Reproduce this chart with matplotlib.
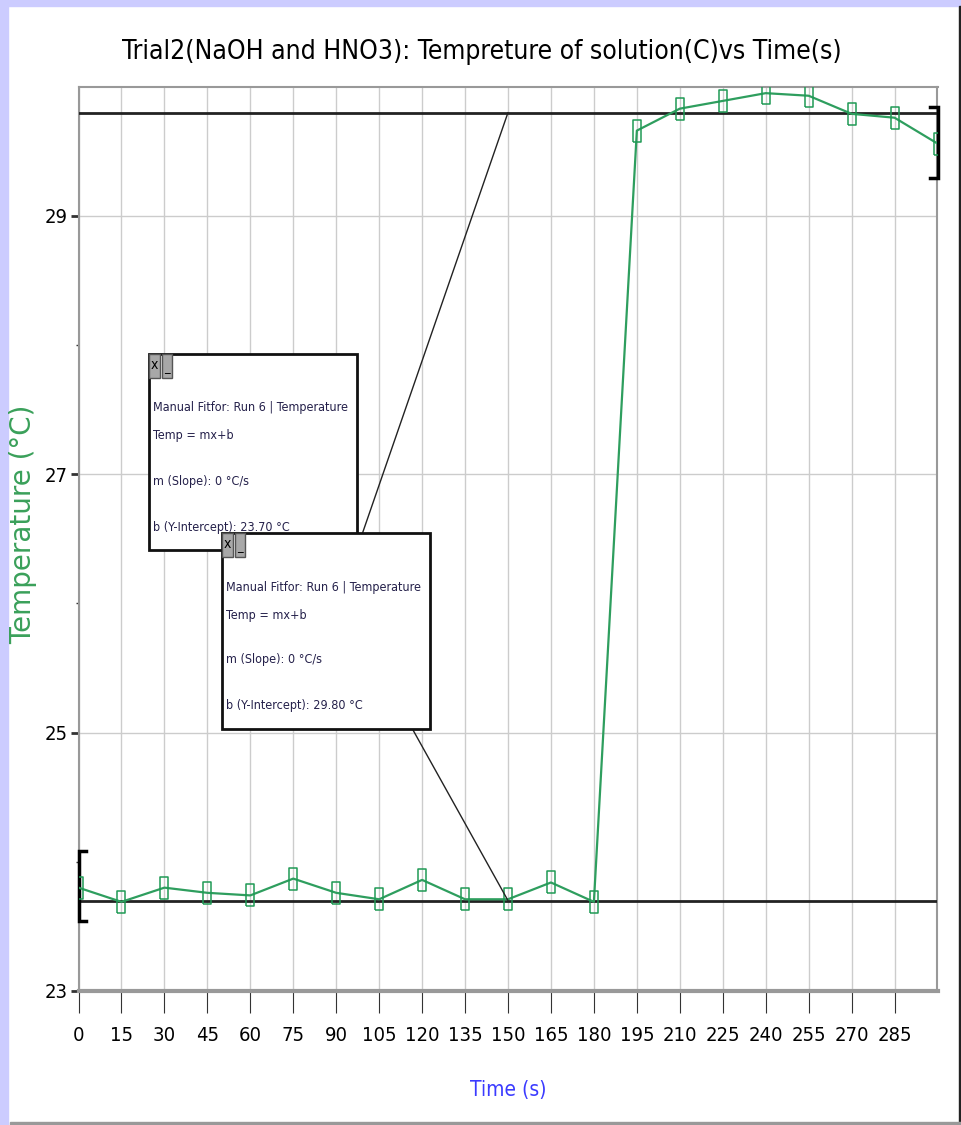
import numpy as np
import matplotlib.pyplot as plt
from matplotlib.patches import Rectangle, ConnectionPatch

# data
times = [0, 15, 30, 45, 60, 75, 90, 105, 120, 135, 150, 165, 180, 195, 210, 225, 240, 255, 270, 285, 300]
temps = [23.80, 23.69, 23.80, 23.76, 23.74, 23.87, 23.76, 23.71, 23.86, 23.71, 23.71, 23.84, 23.69,
         29.66, 29.83, 29.89, 29.95, 29.93, 29.79, 29.76, 29.56]
xticks = list(range(0, 300, 15))
yticks = [23, 25, 27, 29]
fit_b = [23.70, 29.80]
fit_m = [0, 0]
bracket_low = [23.54, 24.08]
bracket_high = [29.29, 29.84]
leader_t = 150

narrow = dict(family='DejaVu Sans', stretch='condensed')
W, H = 962, 1125

def fx(x):
    return x / W

def fy(y):
    return 1 - y / H

fig = plt.figure(figsize=(9.62, 11.25), dpi=100)
fig.patch.set_facecolor('white')

# window frame
fig.add_artist(Rectangle((0, 0), fx(8), 1, transform=fig.transFigure, color='#ccccff', zorder=0))
fig.add_artist(Rectangle((0, fy(6)), 1, fy(0) - fy(6), transform=fig.transFigure, color='#ccccff', zorder=0))
fig.add_artist(Rectangle((fx(959), 0), fx(3), fy(6), transform=fig.transFigure, color='#222222', zorder=0))
fig.add_artist(Rectangle((fx(10), 0), 1, fy(1122), transform=fig.transFigure, color='#999999', zorder=0))

ax = fig.add_axes([fx(78.5), fy(991), fx(937.5) - fx(78.5), fy(86.7) - fy(991)])
ax.set_xlim(0, 300)
ax.set_ylim(23, 30)

ax.set_xticks(xticks)
ax.set_yticks(yticks)
ax.set_yticks([24, 26, 28], minor=True)
ax.grid(True, color='#cccccc', lw=1)
ax.axvline(300, color='#cccccc', lw=1)

for s in ax.spines.values():
    s.set_color('#999999')
    s.set_linewidth(1.5)
ax.spines['bottom'].set_linewidth(3)

ax.tick_params(axis='x', direction='out', length=16, width=0.8, color='#333333', pad=9)
ax.tick_params(axis='y', which='major', direction='out', length=6, width=2, color='#333333', pad=2)
ax.tick_params(axis='y', which='minor', direction='out', length=2, width=1, color='#333333')
for lab in ax.get_xticklabels() + ax.get_yticklabels():
    lab.set_family(narrow['family'])
    lab.set_stretch(narrow['stretch'])
    lab.set_fontsize(14.5)

# fit lines
for b in fit_b:
    ax.axhline(b, color='#222222', lw=2, zorder=3)

ax.plot([2.5, 0, 0, 2.5], [bracket_low[1], bracket_low[1], bracket_low[0], bracket_low[0]],
        color='black', lw=2.5, clip_on=False, zorder=4, solid_joinstyle='miter')
ax.plot([297.5, 300, 300, 297.5], [bracket_high[1], bracket_high[1], bracket_high[0], bracket_high[0]],
        color='black', lw=2.5, clip_on=False, zorder=4, solid_joinstyle='miter')

# tall hollow squares like the logger software draws
box_marker = [(-0.39, -1), (0.39, -1), (0.39, 1), (-0.39, 1), (-0.39, -1)]
ax.plot(times, temps, color='#2e9e5e', lw=1.6, marker=box_marker, markersize=16.5,
        markerfacecolor='none', markeredgecolor='#1f9a55', markeredgewidth=1.1, zorder=5)

ax.set_xlabel('Time (s)', color='#3b3bff', fontsize=15, va='center', **narrow)
ax.xaxis.set_label_coords(0.5, -(1090 - 991) / (991 - 86.7))
fig.text(fx(23), fy(524), 'Temperature (\u00b0C)', color='#3aa05a', rotation=90,
         ha='center', va='center', fontsize=20, family='DejaVu Sans')
fig.text(fx(482), fy(52), 'Trial2(NaOH and HNO3): Tempreture of solution(C)vs Time(s)',
         ha='center', va='center', fontsize=19, **narrow)

# manual fit boxes
boxes = [(149, 354), (222, 533)]
leader_start = [(357, 549), (413, 730)]
leader_end = [fit_b[1], fit_b[0]]
offsets = [54, 82, 127, 173]
for i, (bx, by) in enumerate(boxes):
    con = ConnectionPatch(xyA=(fx(leader_start[i][0]), fy(leader_start[i][1])), coordsA='figure fraction',
                          xyB=(leader_t, leader_end[i]), coordsB=ax.transData,
                          color='#222222', lw=1, zorder=1.5)
    fig.add_artist(con)
    fig.add_artist(Rectangle((fx(bx), fy(by + 196)), fx(208), fy(0) - fy(196), transform=fig.transFigure,
                             facecolor='white', edgecolor='#111111', lw=2, zorder=2 + i))
    fig.add_artist(Rectangle((fx(bx), fy(by + 24)), fx(11), fy(0) - fy(24), transform=fig.transFigure,
                             facecolor='#a8a8a8', edgecolor='#555555', lw=1, zorder=2.1 + i))
    fig.add_artist(Rectangle((fx(bx + 13), fy(by + 24)), fx(10), fy(0) - fy(24), transform=fig.transFigure,
                             facecolor='#a8a8a8', edgecolor='#555555', lw=1, zorder=2.1 + i))
    fig.text(fx(bx + 5.5), fy(by + 11), 'x', ha='center', va='center', fontsize=10, zorder=2.2 + i, **narrow)
    fig.text(fx(bx + 18), fy(by + 14), '_', ha='center', va='center', fontsize=9, zorder=2.2 + i, **narrow)
    lines = ['Manual Fitfor: Run 6 | Temperature', 'Temp = mx+b',
             'm (Slope): %g \u00b0C/s' % fit_m[i], 'b (Y-Intercept): %.2f \u00b0C' % fit_b[i]]
    for off, t in zip(offsets, lines):
        fig.text(fx(bx + 4), fy(by + off), t, ha='left', va='center', fontsize=9.0,
                 color='#24204a', zorder=2.2 + i, **narrow)

plt.savefig('out.png', dpi=100)
